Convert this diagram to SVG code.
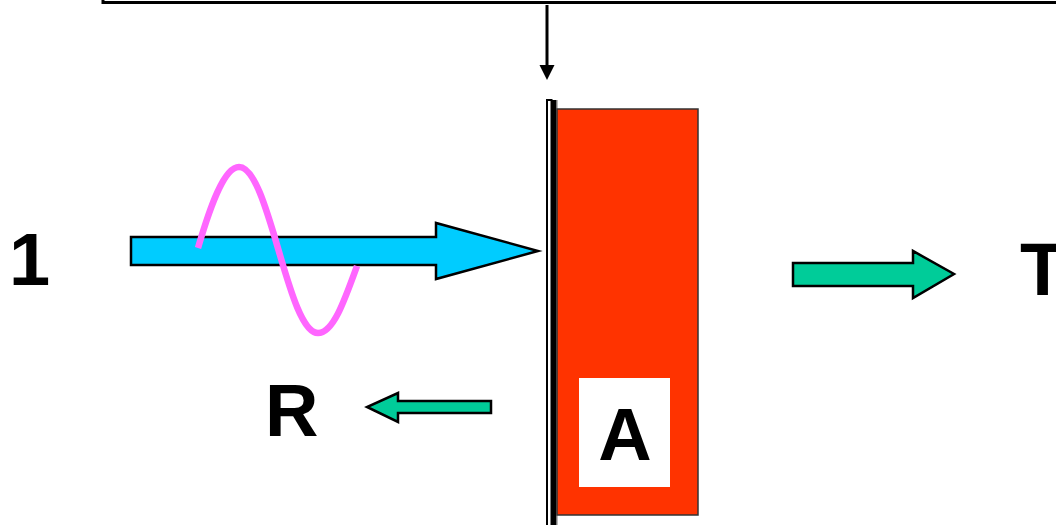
<svg xmlns="http://www.w3.org/2000/svg" width="1056" height="525" viewBox="0 0 1056 525">
<style>
.lbl{font-family:"Liberation Sans",Arial,sans-serif;font-weight:bold;font-size:74px;fill:#000}
.ol{stroke:#000;stroke-width:2.5;stroke-linejoin:miter}
.green{fill:#00cc99}
</style>
<rect width="1056" height="525" fill="#fff"/>
<g id="frame">
<path d="M103,0 V2.5 H1057" fill="none" stroke="#000" stroke-width="3"/>
</g>
<g id="plate">
<rect x="547" y="100" width="4.5" height="426" fill="#fff" stroke="#000" stroke-width="2"/>
<rect x="551.5" y="100" width="4.5" height="426" fill="#000"/>
<rect x="556" y="100" width="1.5" height="426" fill="#777"/>
</g>
<g id="absorber">
<rect x="557" y="109" width="141" height="406" fill="#ff3300" stroke="#333" stroke-width="1.5"/>
<rect x="579" y="378" width="91" height="109" fill="#fff"/>
<text class="lbl" x="625" y="460" text-anchor="middle">A</text>
</g>
<g id="incident">
<polygon class="ol" points="131,237 436,237 436,223 538,251 436,279 436,265 131,265" fill="#00ccff"/>
<path d="M198,248 C210,207 224,167 239,167 C254,167 266,207 278.5,250 C291,293 303,333 318,333 C333,333 344,302 357,266" fill="none" stroke="#ff66ff" stroke-width="6.5"/>
<text class="lbl" x="9" y="285">1</text>
</g>
<g id="reflected">
<polygon class="ol green" points="491,401 491,413 398,413 398,422 367,407 398,393 398,401"/>
<text class="lbl" x="265" y="436">R</text>
</g>
<g id="transmitted">
<polygon class="ol green" points="793,263 913,263 913,251 954,274 913,298 913,286 793,286"/>
<text class="lbl" x="1020" y="295">T</text>
</g>
<g id="connectors">
<line x1="547" y1="5" x2="547" y2="66" stroke="#000" stroke-width="3"/>
<polygon points="539.5,65 554.5,65 547,80" fill="#000"/>
</g>
</svg>
